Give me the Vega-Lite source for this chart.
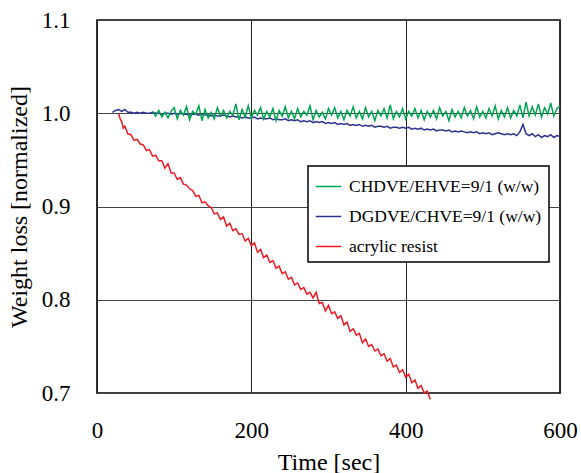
{
  "$schema": "https://vega.github.io/schema/vega-lite/v6.json",
  "width": 463,
  "height": 373,
  "autosize": {"type": "none"},
  "padding": {"left": 97, "top": 20, "right": 21, "bottom": 80},
  "config": {
    "view": {"stroke": "#000000", "strokeWidth": 1.6},
    "font": "Liberation Serif",
    "axis": {
      "domain": false,
      "ticks": false,
      "labelFont": "Liberation Serif",
      "titleFont": "Liberation Serif",
      "labelFontSize": 23,
      "titleFontSize": 24,
      "titleFontWeight": "normal",
      "labelColor": "#000000",
      "titleColor": "#000000"
    },
    "legend": {
      "orient": "none",
      "legendX": 211,
      "legendY": 146,
      "padding": 7,
      "strokeColor": "#000000",
      "strokeWidth": 1.5,
      "fillColor": "#ffffff",
      "labelFont": "Liberation Serif",
      "labelFontSize": 17.5,
      "labelColor": "#000000",
      "labelLimit": 400,
      "symbolType": "stroke",
      "symbolSize": 650,
      "symbolStrokeWidth": 1.5,
      "rowPadding": 8,
      "labelOffset": 7
    }
  },
  "encoding": {
    "x": {
      "field": "t", "type": "quantitative",
      "scale": {"domain": [0, 600], "nice": false},
      "axis": {"values": [0, 200, 400, 600], "title": "Time [sec]", "labelFont": "Liberation Serif", "titleFont": "Liberation Serif", "labelPadding": 26, "titlePadding": 8, "gridColor": "#222222", "gridWidth": 1, "gridOpacity": 1, "labelFlush": false}
    },
    "y": {
      "field": "v", "type": "quantitative",
      "scale": {"domain": [0.7, 1.1], "nice": false, "zero": false},
      "axis": {"values": [0.7, 0.8, 0.9, 1.0, 1.1], "format": ".1f", "title": "Weight loss [normalized]", "labelFont": "Liberation Serif", "titleFont": "Liberation Serif", "labelPadding": 27, "titlePadding": 10, "gridColor": "#444444", "gridWidth": 1, "gridOpacity": 1}
    }
  },
  "layer": [
    {
      "data": {"values": [
        {"t":20,"v":1.001},{"t":24,"v":1.003},{"t":28,"v":1.004},{"t":32,"v":1.002},{"t":36,"v":1.004},{"t":40,"v":1.001},{"t":44,"v":1.001},{"t":48,"v":1.000},{"t":52,"v":1.001},{"t":56,"v":1.000},{"t":60,"v":1.001},{"t":64,"v":1.000},{"t":68,"v":1.000},{"t":72,"v":1.001},{"t":76,"v":1.000},{"t":80,"v":1.000},{"t":84,"v":0.999},{"t":88,"v":1.000},{"t":92,"v":1.000},{"t":96,"v":0.999},{"t":100,"v":1.000},{"t":104,"v":0.999},{"t":108,"v":1.000},{"t":112,"v":0.999},{"t":116,"v":0.999},{"t":120,"v":0.998},{"t":124,"v":0.999},{"t":128,"v":0.999},{"t":132,"v":0.998},{"t":136,"v":0.999},{"t":140,"v":0.998},{"t":144,"v":0.998},{"t":148,"v":0.997},{"t":152,"v":0.998},{"t":156,"v":0.997},{"t":160,"v":0.997},{"t":164,"v":0.998},{"t":168,"v":0.997},{"t":172,"v":0.996},{"t":176,"v":0.997},{"t":180,"v":0.996},{"t":184,"v":0.996},{"t":188,"v":0.995},{"t":192,"v":0.996},{"t":196,"v":0.995},{"t":200,"v":0.995},{"t":204,"v":0.996},{"t":208,"v":0.994},{"t":212,"v":0.995},{"t":216,"v":0.994},{"t":220,"v":0.994},{"t":224,"v":0.995},{"t":228,"v":0.993},{"t":232,"v":0.994},{"t":236,"v":0.993},{"t":240,"v":0.993},{"t":244,"v":0.994},{"t":248,"v":0.992},{"t":252,"v":0.993},{"t":256,"v":0.992},{"t":260,"v":0.993},{"t":264,"v":0.991},{"t":268,"v":0.992},{"t":272,"v":0.991},{"t":276,"v":0.992},{"t":280,"v":0.990},{"t":284,"v":0.991},{"t":288,"v":0.990},{"t":292,"v":0.991},{"t":296,"v":0.989},{"t":300,"v":0.990},{"t":304,"v":0.989},{"t":308,"v":0.990},{"t":312,"v":0.988},{"t":316,"v":0.989},{"t":320,"v":0.988},{"t":324,"v":0.989},{"t":328,"v":0.987},{"t":332,"v":0.988},{"t":336,"v":0.987},{"t":340,"v":0.988},{"t":344,"v":0.986},{"t":348,"v":0.987},{"t":352,"v":0.986},{"t":356,"v":0.987},{"t":360,"v":0.985},{"t":364,"v":0.986},{"t":368,"v":0.986},{"t":372,"v":0.985},{"t":376,"v":0.986},{"t":380,"v":0.984},{"t":384,"v":0.985},{"t":388,"v":0.985},{"t":392,"v":0.984},{"t":396,"v":0.985},{"t":400,"v":0.984},{"t":404,"v":0.985},{"t":408,"v":0.983},{"t":412,"v":0.984},{"t":416,"v":0.983},{"t":420,"v":0.984},{"t":424,"v":0.982},{"t":428,"v":0.983},{"t":432,"v":0.982},{"t":436,"v":0.983},{"t":440,"v":0.981},{"t":444,"v":0.982},{"t":448,"v":0.982},{"t":452,"v":0.981},{"t":456,"v":0.982},{"t":460,"v":0.980},{"t":464,"v":0.981},{"t":468,"v":0.980},{"t":472,"v":0.981},{"t":476,"v":0.980},{"t":480,"v":0.979},{"t":484,"v":0.980},{"t":488,"v":0.979},{"t":492,"v":0.980},{"t":496,"v":0.978},{"t":500,"v":0.979},{"t":504,"v":0.978},{"t":508,"v":0.979},{"t":512,"v":0.977},{"t":516,"v":0.978},{"t":520,"v":0.979},{"t":524,"v":0.978},{"t":528,"v":0.977},{"t":532,"v":0.978},{"t":536,"v":0.977},{"t":540,"v":0.978},{"t":544,"v":0.976},{"t":548,"v":0.980},{"t":552,"v":0.988},{"t":556,"v":0.978},{"t":560,"v":0.976},{"t":564,"v":0.978},{"t":568,"v":0.975},{"t":572,"v":0.977},{"t":576,"v":0.974},{"t":580,"v":0.976},{"t":584,"v":0.975},{"t":588,"v":0.977},{"t":592,"v":0.974},{"t":596,"v":0.976},{"t":600,"v":0.975}
      ]},
      "mark": {"type": "line", "strokeWidth": 1.5},
      "encoding": {
        "color": {
          "datum": "DGDVE/CHVE=9/1 (w/w)",
          "scale": {"domain": ["CHDVE/EHVE=9/1 (w/w)", "DGDVE/CHVE=9/1 (w/w)", "acrylic resist"], "range": ["#00a651", "#2e3192", "#ed1c24"]},
          "legend": {"title": null}
        }
      }
    },
    {
      "data": {"values": [
        {"t":72,"v":1.002},{"t":76,"v":0.997},{"t":80,"v":1.003},{"t":84,"v":0.996},{"t":88,"v":1.001},{"t":92,"v":0.995},{"t":96,"v":1.002},{"t":100,"v":1.006},{"t":104,"v":0.994},{"t":108,"v":1.003},{"t":112,"v":0.998},{"t":116,"v":1.007},{"t":120,"v":0.993},{"t":124,"v":1.002},{"t":128,"v":0.999},{"t":132,"v":1.008},{"t":136,"v":0.992},{"t":140,"v":1.004},{"t":144,"v":0.995},{"t":148,"v":1.001},{"t":152,"v":0.994},{"t":156,"v":1.006},{"t":160,"v":0.997},{"t":164,"v":1.003},{"t":168,"v":0.995},{"t":172,"v":1.002},{"t":176,"v":0.998},{"t":180,"v":1.010},{"t":184,"v":0.993},{"t":188,"v":1.004},{"t":192,"v":0.996},{"t":196,"v":1.008},{"t":200,"v":0.995},{"t":204,"v":1.003},{"t":208,"v":0.998},{"t":212,"v":1.006},{"t":216,"v":0.994},{"t":220,"v":1.002},{"t":224,"v":0.996},{"t":228,"v":1.005},{"t":232,"v":0.992},{"t":236,"v":1.003},{"t":240,"v":0.997},{"t":244,"v":1.007},{"t":248,"v":0.995},{"t":252,"v":1.002},{"t":256,"v":0.994},{"t":260,"v":1.005},{"t":264,"v":0.996},{"t":268,"v":1.002},{"t":272,"v":0.998},{"t":276,"v":1.008},{"t":280,"v":0.993},{"t":284,"v":1.003},{"t":288,"v":0.996},{"t":292,"v":1.001},{"t":296,"v":0.994},{"t":300,"v":1.005},{"t":304,"v":0.998},{"t":308,"v":1.006},{"t":312,"v":0.995},{"t":316,"v":1.002},{"t":320,"v":0.993},{"t":324,"v":1.003},{"t":328,"v":0.997},{"t":332,"v":1.007},{"t":336,"v":0.995},{"t":340,"v":1.002},{"t":344,"v":0.994},{"t":348,"v":1.006},{"t":352,"v":0.996},{"t":356,"v":1.002},{"t":360,"v":0.992},{"t":364,"v":1.003},{"t":368,"v":0.997},{"t":372,"v":1.005},{"t":376,"v":0.995},{"t":380,"v":1.009},{"t":384,"v":0.994},{"t":388,"v":1.002},{"t":392,"v":0.996},{"t":396,"v":1.005},{"t":400,"v":0.994},{"t":404,"v":1.002},{"t":408,"v":0.997},{"t":412,"v":1.005},{"t":416,"v":0.995},{"t":420,"v":1.003},{"t":424,"v":0.993},{"t":428,"v":1.002},{"t":432,"v":0.996},{"t":436,"v":1.003},{"t":440,"v":0.994},{"t":444,"v":1.006},{"t":448,"v":0.997},{"t":452,"v":1.002},{"t":456,"v":0.992},{"t":460,"v":1.004},{"t":464,"v":0.996},{"t":468,"v":1.002},{"t":472,"v":0.995},{"t":476,"v":1.006},{"t":480,"v":0.997},{"t":484,"v":1.003},{"t":488,"v":0.994},{"t":492,"v":1.007},{"t":496,"v":0.996},{"t":500,"v":1.002},{"t":504,"v":0.995},{"t":508,"v":1.005},{"t":512,"v":0.997},{"t":516,"v":1.008},{"t":520,"v":0.994},{"t":524,"v":1.003},{"t":528,"v":0.996},{"t":532,"v":1.006},{"t":536,"v":0.995},{"t":540,"v":1.003},{"t":544,"v":0.997},{"t":548,"v":1.009},{"t":552,"v":0.995},{"t":556,"v":1.012},{"t":560,"v":0.997},{"t":564,"v":1.007},{"t":568,"v":0.998},{"t":572,"v":1.010},{"t":576,"v":0.996},{"t":580,"v":1.006},{"t":584,"v":0.999},{"t":588,"v":1.011},{"t":592,"v":0.997},{"t":596,"v":1.005},{"t":600,"v":1.008}
      ]},
      "mark": {"type": "line", "strokeWidth": 1.5},
      "encoding": {"color": {"datum": "CHDVE/EHVE=9/1 (w/w)"}}
    },
    {
      "data": {"values": [
        {"t":28,"v":1.000},{"t":30,"v":0.994},{"t":32,"v":0.991},{"t":34,"v":0.984},{"t":36,"v":0.986},{"t":40,"v":0.978},{"t":44,"v":0.977},{"t":48,"v":0.971},{"t":52,"v":0.972},{"t":56,"v":0.967},{"t":60,"v":0.966},{"t":64,"v":0.960},{"t":68,"v":0.961},{"t":72,"v":0.954},{"t":76,"v":0.955},{"t":80,"v":0.949},{"t":84,"v":0.949},{"t":88,"v":0.941},{"t":92,"v":0.946},{"t":96,"v":0.936},{"t":100,"v":0.936},{"t":104,"v":0.929},{"t":108,"v":0.931},{"t":112,"v":0.924},{"t":116,"v":0.923},{"t":120,"v":0.919},{"t":124,"v":0.917},{"t":128,"v":0.911},{"t":132,"v":0.912},{"t":136,"v":0.904},{"t":140,"v":0.905},{"t":144,"v":0.901},{"t":148,"v":0.899},{"t":152,"v":0.892},{"t":156,"v":0.893},{"t":160,"v":0.886},{"t":164,"v":0.889},{"t":168,"v":0.879},{"t":172,"v":0.882},{"t":176,"v":0.874},{"t":180,"v":0.876},{"t":184,"v":0.870},{"t":188,"v":0.871},{"t":192,"v":0.863},{"t":196,"v":0.866},{"t":200,"v":0.858},{"t":204,"v":0.861},{"t":208,"v":0.851},{"t":212,"v":0.854},{"t":216,"v":0.845},{"t":220,"v":0.848},{"t":224,"v":0.840},{"t":228,"v":0.842},{"t":232,"v":0.834},{"t":236,"v":0.836},{"t":240,"v":0.828},{"t":244,"v":0.830},{"t":248,"v":0.822},{"t":252,"v":0.824},{"t":256,"v":0.816},{"t":260,"v":0.818},{"t":264,"v":0.811},{"t":268,"v":0.813},{"t":272,"v":0.806},{"t":276,"v":0.808},{"t":280,"v":0.802},{"t":284,"v":0.808},{"t":288,"v":0.796},{"t":292,"v":0.797},{"t":296,"v":0.788},{"t":300,"v":0.794},{"t":304,"v":0.785},{"t":308,"v":0.787},{"t":312,"v":0.780},{"t":316,"v":0.783},{"t":320,"v":0.773},{"t":324,"v":0.776},{"t":328,"v":0.766},{"t":332,"v":0.769},{"t":336,"v":0.762},{"t":340,"v":0.764},{"t":344,"v":0.754},{"t":348,"v":0.758},{"t":352,"v":0.750},{"t":356,"v":0.752},{"t":360,"v":0.745},{"t":364,"v":0.747},{"t":368,"v":0.740},{"t":372,"v":0.742},{"t":376,"v":0.734},{"t":380,"v":0.737},{"t":384,"v":0.728},{"t":388,"v":0.730},{"t":392,"v":0.722},{"t":396,"v":0.725},{"t":400,"v":0.717},{"t":404,"v":0.720},{"t":408,"v":0.711},{"t":412,"v":0.714},{"t":416,"v":0.705},{"t":420,"v":0.708},{"t":424,"v":0.700},{"t":428,"v":0.702},{"t":432,"v":0.693}
      ]},
      "mark": {"type": "line", "strokeWidth": 1.5},
      "encoding": {"color": {"datum": "acrylic resist"}}
    }
  ]
}
